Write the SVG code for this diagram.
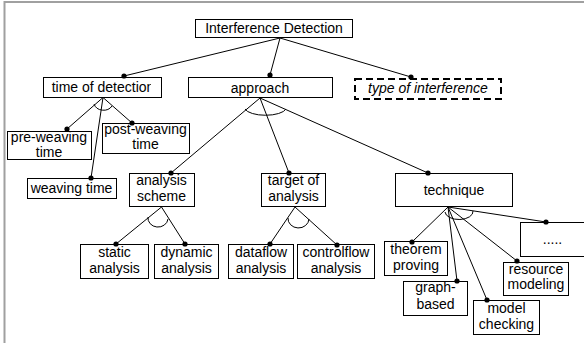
<svg xmlns="http://www.w3.org/2000/svg" width="584" height="343" viewBox="0 0 584 343">
<defs>
<style>
.box{fill:#fff;stroke:#000;stroke-width:1}
.dash{fill:#fff;stroke:#000;stroke-width:2;stroke-dasharray:7 4}
.t{font-family:"Liberation Sans",Arial,sans-serif;font-size:14px;text-anchor:middle;fill:#000}
.c{stroke:#000;stroke-width:1;fill:none;marker-end:url(#dot)}
.arc{stroke:#000;stroke-width:1;fill:none}
.frame{stroke:#a0a0a0;stroke-width:2;fill:none}
</style>
<marker id="dot" markerUnits="userSpaceOnUse" markerWidth="6" markerHeight="6" refX="3" refY="3" viewBox="0 0 6 6">
<circle cx="3" cy="3" r="2.6" fill="#000"/>
</marker>
<clipPath id="clipTod"><rect x="43" y="77" width="108" height="21"/></clipPath>
</defs>
<rect width="584" height="343" fill="#fff"/>
<path class="frame" d="M4.5,343 V2 H584"/>

<g id="interference-detection">
<rect class="box" x="195.5" y="19.5" width="157" height="18"/>
<text class="t" x="274" y="33">Interference Detection</text>
</g>
<g id="time-of-detection">
<rect class="box" x="43.5" y="77.5" width="118" height="20"/>
<text class="t" x="103" y="92" clip-path="url(#clipTod)">time of detection</text>
</g>
<g id="approach">
<rect class="box" x="188.5" y="77.5" width="144" height="20"/>
<text class="t" x="260" y="92.5">approach</text>
</g>
<g id="type-of-interference">
<rect class="dash" x="355" y="79" width="146" height="20"/>
<text class="t" x="428" y="93" font-style="italic">type of interference</text>
</g>
<g id="pre-weaving-time">
<rect class="box" x="7.5" y="131.5" width="84" height="28"/>
<text class="t" x="49" y="142">pre-weaving</text>
<text class="t" x="49" y="157">time</text>
</g>
<g id="post-weaving-time">
<rect class="box" x="102.5" y="123.5" width="87" height="30"/>
<text class="t" x="145.5" y="134">post-weaving</text>
<text class="t" x="145.5" y="149">time</text>
</g>
<g id="weaving-time">
<rect class="box" x="27.5" y="178.5" width="89" height="20"/>
<text class="t" x="71.5" y="192.5">weaving time</text>
</g>
<g id="analysis-scheme">
<rect class="box" x="129.5" y="173.5" width="65" height="33"/>
<text class="t" x="161.5" y="185">analysis</text>
<text class="t" x="161.5" y="201">scheme</text>
</g>
<g id="target-of-analysis">
<rect class="box" x="261.5" y="173.5" width="64" height="33"/>
<text class="t" x="293.5" y="185">target of</text>
<text class="t" x="293.5" y="201">analysis</text>
</g>
<g id="technique">
<rect class="box" x="395.5" y="173.5" width="117" height="33"/>
<text class="t" x="454" y="195">technique</text>
</g>
<g id="static-analysis">
<rect class="box" x="80.5" y="244.5" width="68" height="34"/>
<text class="t" x="114.5" y="256.5">static</text>
<text class="t" x="114.5" y="272.5">analysis</text>
</g>
<g id="dynamic-analysis">
<rect class="box" x="154.5" y="244.5" width="64" height="34"/>
<text class="t" x="186.5" y="256.5">dynamic</text>
<text class="t" x="186.5" y="272.5">analysis</text>
</g>
<g id="dataflow-analysis">
<rect class="box" x="228.5" y="244.5" width="65" height="34"/>
<text class="t" x="261" y="256.5">dataflow</text>
<text class="t" x="261" y="272.5">analysis</text>
</g>
<g id="controlflow-analysis">
<rect class="box" x="297.5" y="244.5" width="77" height="34"/>
<text class="t" x="336" y="256.5">controlflow</text>
<text class="t" x="336" y="272.5">analysis</text>
</g>
<g id="more">
<rect class="box" x="520.5" y="222.5" width="70" height="34"/>
<text class="t" x="552.5" y="244">.....</text>
</g>
<g id="theorem-proving">
<rect class="box" x="384.5" y="241.5" width="63" height="34"/>
<text class="t" x="416" y="254">theorem</text>
<text class="t" x="416" y="270">proving</text>
</g>
<g id="graph-based">
<rect class="box" x="403.5" y="281.5" width="64" height="34"/>
<text class="t" x="435.5" y="292">graph-</text>
<text class="t" x="435.5" y="309">based</text>
</g>
<g id="model-checking">
<rect class="box" x="473.5" y="300.5" width="66" height="34"/>
<text class="t" x="506.5" y="312.5">model</text>
<text class="t" x="506.5" y="328.5">checking</text>
</g>
<g id="resource-modeling">
<rect class="box" x="503.5" y="262.5" width="65" height="33"/>
<text class="t" x="536" y="273.5">resource</text>
<text class="t" x="536" y="289">modeling</text>
</g>

<g id="connectors">
<line class="c" x1="280" y1="38" x2="124" y2="76"/>
<line class="c" x1="280" y1="38" x2="270" y2="75"/>
<line class="c" x1="280" y1="38" x2="411" y2="77"/>
<line class="c" x1="103" y1="97.5" x2="67" y2="129"/>
<line class="c" x1="103" y1="97.5" x2="132" y2="123"/>
<line class="c" x1="103" y1="97.5" x2="91" y2="178"/>
<path class="arc" d="M94,104 A10,9 0 0 0 112,106"/>
<line class="c" x1="260" y1="98" x2="171" y2="173"/>
<line class="c" x1="260" y1="98" x2="289" y2="173"/>
<line class="c" x1="260" y1="98" x2="428" y2="173"/>
<path class="arc" d="M245,109 A21,8 0 0 0 286,109"/>
<line class="c" x1="161.5" y1="207" x2="116" y2="244"/>
<line class="c" x1="161.5" y1="207" x2="185" y2="244"/>
<path class="arc" d="M148,217 A10,9 0 0 0 168,219"/>
<line class="c" x1="295" y1="207" x2="270" y2="244"/>
<line class="c" x1="295" y1="207" x2="337" y2="245"/>
<path class="arc" d="M288,218 A10,9 0 0 0 309,219"/>
<line class="c" x1="448" y1="207" x2="412" y2="242"/>
<line class="c" x1="448" y1="207" x2="457" y2="281"/>
<line class="c" x1="448" y1="207" x2="487" y2="300"/>
<line class="c" x1="448" y1="207" x2="517" y2="261"/>
<line class="c" x1="448" y1="207" x2="546" y2="222"/>
<path class="arc" d="M445,212 A14,8 0 0 0 473,211"/>
</g>
</svg>
